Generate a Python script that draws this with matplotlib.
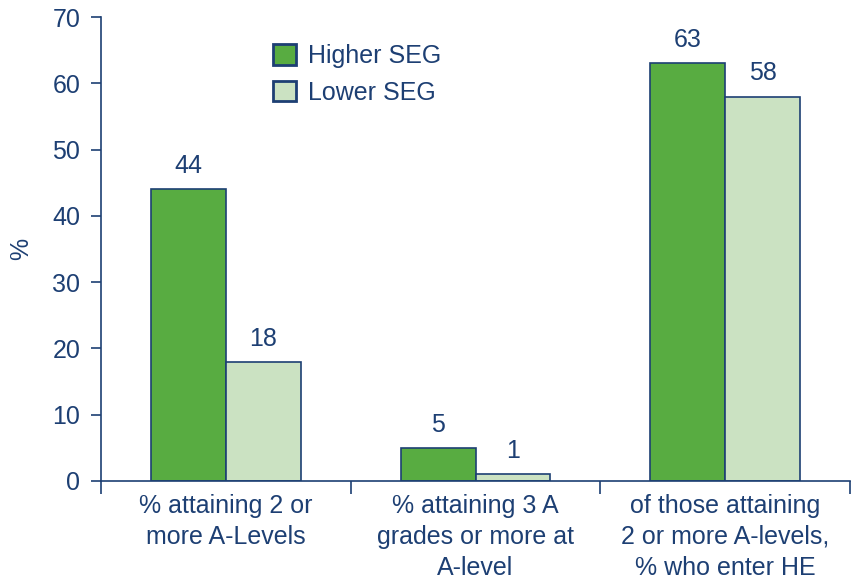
import numpy as np
import matplotlib
matplotlib.use('Agg')
from matplotlib import pyplot as plt

categories = ['% attaining 2 or\nmore A-Levels',
              '% attaining 3 A\ngrades or more at\nA-level',
              'of those attaining\n2 or more A-levels,\n% who enter HE']
higher = [44, 5, 63]
lower = [18, 1, 58]
series_names = ['Higher SEG', 'Lower SEG']
yticks = [0, 10, 20, 30, 40, 50, 60, 70]

navy = '#1d3f73'
dark_green = '#58ac41'
light_green = '#cbe2c2'

plt.rcParams['font.family'] = ['Liberation Sans', 'DejaVu Sans']
fs = 18

fig = plt.figure(figsize=(8.51, 5.79), dpi=100)
ax = fig.add_axes([101/851, 1-481/579, 749/851, 464/579])

x = np.arange(len(categories))
w = 0.3
b1 = ax.bar(x-w/2, higher, w, color=dark_green, edgecolor=navy, linewidth=1.2, label=series_names[0])
b2 = ax.bar(x+w/2, lower, w, color=light_green, edgecolor=navy, linewidth=1.2, label=series_names[1])

for bars, vals in ((b1, higher), (b2, lower)):
    for r, v in zip(bars, vals):
        ax.annotate(str(v), (r.get_x()+r.get_width()/2, v), xytext=(0, 8),
                    textcoords='offset points', ha='center', va='bottom',
                    fontsize=fs, color=navy)

ax.set_xlim(-0.5, 2.5)
ax.set_ylim(0, 70)
ax.set_yticks(yticks)
ax.set_xticks([-0.5, 0.5, 1.5, 2.5])
ax.set_xticklabels([])
ax.set_xticks(x, minor=True)
ax.set_xticklabels(categories, minor=True, fontsize=fs, color=navy, linespacing=1.38)
ax.tick_params(axis='x', which='minor', length=0, pad=9)
ax.tick_params(axis='x', which='major', length=9, width=1.2, color=navy)
ax.tick_params(axis='y', length=7, width=1.2, color=navy, labelsize=fs, labelcolor=navy, pad=8)
for s in ('top', 'right'):
    ax.spines[s].set_visible(False)
for s in ('left', 'bottom'):
    ax.spines[s].set_color(navy)
    ax.spines[s].set_linewidth(1.2)

ax.set_ylabel('%', fontsize=fs, color=navy, labelpad=14)

leg = ax.legend(loc='upper left', bbox_to_anchor=(0.2, 0.99), frameon=False,
                fontsize=fs, handlelength=0.9, handleheight=0.9, handletextpad=0.5,
                labelspacing=0.5, labelcolor=navy)
for h in leg.legend_handles:
    h.set_linewidth(2)

fig.savefig('out.png', dpi=100)
